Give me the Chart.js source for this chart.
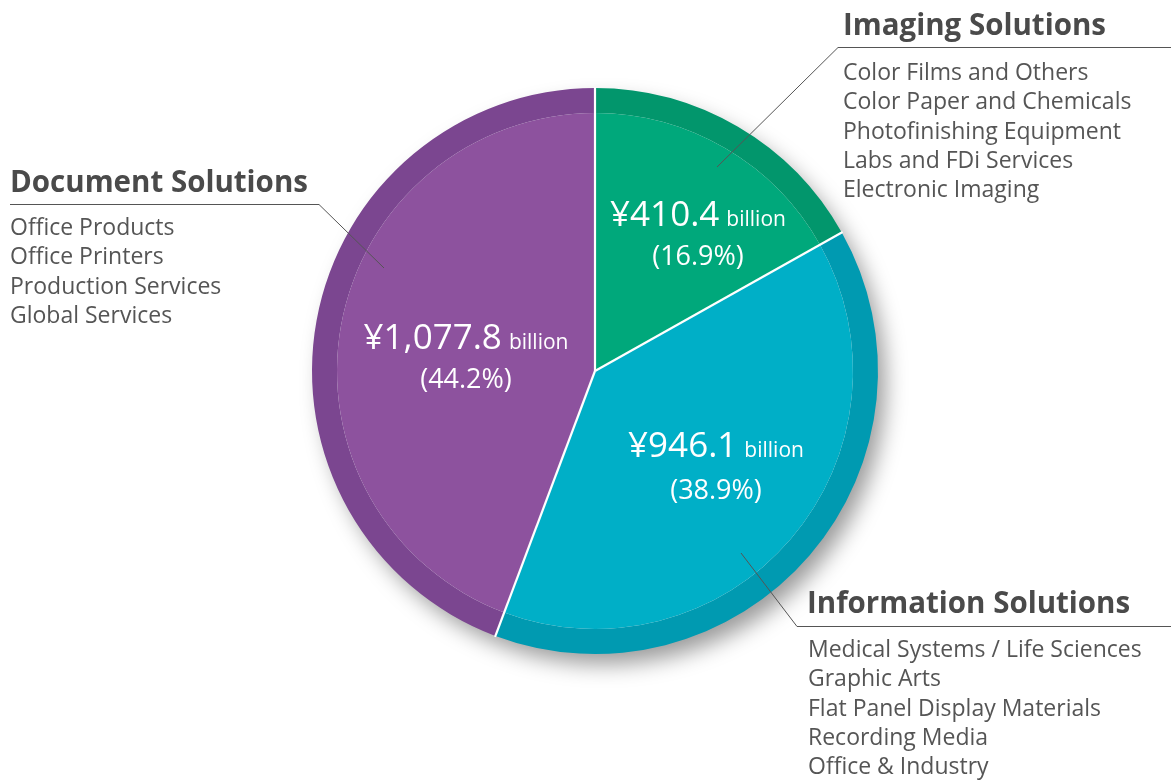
<!DOCTYPE html>
<html>
<head>
<meta charset="utf-8">
<script src="https://cdn.jsdelivr.net/npm/chart.js@4/dist/chart.umd.min.js"></script>
<style>
  html, body { margin: 0; padding: 0; background: #fff; }
  #wrap { width: 1171px; height: 781px; position: relative; }
</style>
</head>
<body>
<div id="wrap"><canvas id="pie"></canvas></div>
<script>
// segment data (clockwise from 12 o'clock)
const segments = ['Imaging Solutions', 'Information Solutions', 'Document Solutions'];
const revenue = [410.4, 946.1, 1077.8];          // ¥ billion
const revenueText = ['¥410.4', '¥946.1', '¥1,077.8'];
const shares = ['16.9%', '38.9%', '44.2%'];
const subItems = [
  ['Color Films and Others', 'Color Paper and Chemicals', 'Photofinishing Equipment', 'Labs and FDi Services', 'Electronic Imaging'],
  ['Medical Systems / Life Sciences', 'Graphic Arts', 'Flat Panel Display Materials', 'Recording Media', 'Office & Industry'],
  ['Office Products', 'Office Printers', 'Production Services', 'Global Services']
];

const mainColors = ['#00a87b', '#00afc7', '#8d529e'];
const ringColors = ['#02966c', '#009ab1', '#7b4690'];
const FONT = '"Open Sans", "Noto Sans", sans-serif';

// where the text blocks go, relative to the canvas
const labelPos = [
  { x: 698, y: 226, py: 265 },
  { x: 716, y: 457, py: 499 },
  { x: 466, y: 349, py: 388 }
];
const calloutPos = [
  { tx: 843, ty: 35, ly: 47, lx0: 838, lx1: 1171, ex: 717, ey: 167, ix: 843, iy0: 80 },
  { tx: 807, ty: 613, ly: 626, lx0: 797, lx1: 1171, ex: 741, ey: 553, ix: 808, iy0: 657 },
  { tx: 10, ty: 192, ly: 204, lx0: 319, lx1: 10, ex: 384, ey: 268, ix: 10, iy0: 235 }
];

// soft drop shadow under the pie
const shadowPlugin = {
  id: 'shadow',
  beforeDatasetsDraw(chart) {
    const arc = chart.getDatasetMeta(0).data[0];
    if (!arc) return;
    const ctx = chart.ctx;
    ctx.save();
    ctx.shadowColor = 'rgba(0,0,0,0.4)';
    ctx.shadowBlur = 22;
    ctx.shadowOffsetX = 9;
    ctx.shadowOffsetY = 12;
    ctx.fillStyle = '#fff';
    ctx.beginPath();
    ctx.arc(arc.x, arc.y, arc.outerRadius - 2, 0, Math.PI * 2);
    ctx.fill();
    ctx.restore();
  }
};

// white slice separators, value labels and callouts
const decorPlugin = {
  id: 'decor',
  afterDatasetsDraw(chart) {
    const ctx = chart.ctx;
    const arcs = chart.getDatasetMeta(0).data;
    ctx.save();
    ctx.strokeStyle = '#fff';
    ctx.lineWidth = 2.2;
    arcs.forEach(a => {
      ctx.beginPath();
      ctx.moveTo(a.x, a.y);
      ctx.lineTo(a.x + Math.cos(a.startAngle) * (a.outerRadius + 1), a.y + Math.sin(a.startAngle) * (a.outerRadius + 1));
      ctx.stroke();
    });

    // value labels
    ctx.fillStyle = '#fff';
    ctx.textBaseline = 'alphabetic';
    segments.forEach((s, i) => {
      const p = labelPos[i];
      ctx.font = '35px ' + FONT;
      const w1 = ctx.measureText(revenueText[i]).width;
      ctx.font = '21px ' + FONT;
      const w2 = ctx.measureText('billion').width;
      const gap = 7;
      const x0 = p.x - (w1 + gap + w2) / 2;
      ctx.textAlign = 'left';
      ctx.font = '35px ' + FONT;
      ctx.fillText(revenueText[i], x0, p.y);
      ctx.font = '21px ' + FONT;
      ctx.fillText('billion', x0 + w1 + gap, p.y);
      ctx.textAlign = 'center';
      ctx.font = '27px ' + FONT;
      ctx.fillText('(' + shares[i] + ')', p.x, p.py);
    });

    // callouts
    segments.forEach((s, i) => {
      const c = calloutPos[i];
      ctx.strokeStyle = '#555';
      ctx.lineWidth = 1;
      ctx.beginPath();
      ctx.moveTo(c.lx1, c.ly + 0.5);
      ctx.lineTo(c.lx0, c.ly + 0.5);
      ctx.lineTo(c.ex, c.ey);
      ctx.stroke();
      ctx.textAlign = 'left';
      ctx.fillStyle = '#4a4a4a';
      ctx.font = 'bold 29.5px ' + FONT;
      ctx.fillText(s, c.tx, c.ty);
      ctx.fillStyle = '#555';
      ctx.font = '23px ' + FONT;
      subItems[i].forEach((t, k) => ctx.fillText(t, c.ix, c.iy0 + k * 29.3));
    });
    ctx.restore();
  }
};

new Chart(document.getElementById('pie'), {
  type: 'pie',
  data: {
    labels: segments,
    datasets: [
      { data: revenue, backgroundColor: ringColors, borderWidth: 0, weight: 25, hoverOffset: 0 },
      { data: revenue, backgroundColor: mainColors, borderWidth: 0, weight: 258, hoverOffset: 0 }
    ]
  },
  options: {
    responsive: true,
    maintainAspectRatio: false,
    animation: false,
    events: [],
    layout: { padding: { left: 312, right: 293, top: 88, bottom: 127 } },
    plugins: {
      legend: { display: false },
      tooltip: { enabled: false }
    }
  },
  plugins: [shadowPlugin, decorPlugin]
});
</script>
</body>
</html>
